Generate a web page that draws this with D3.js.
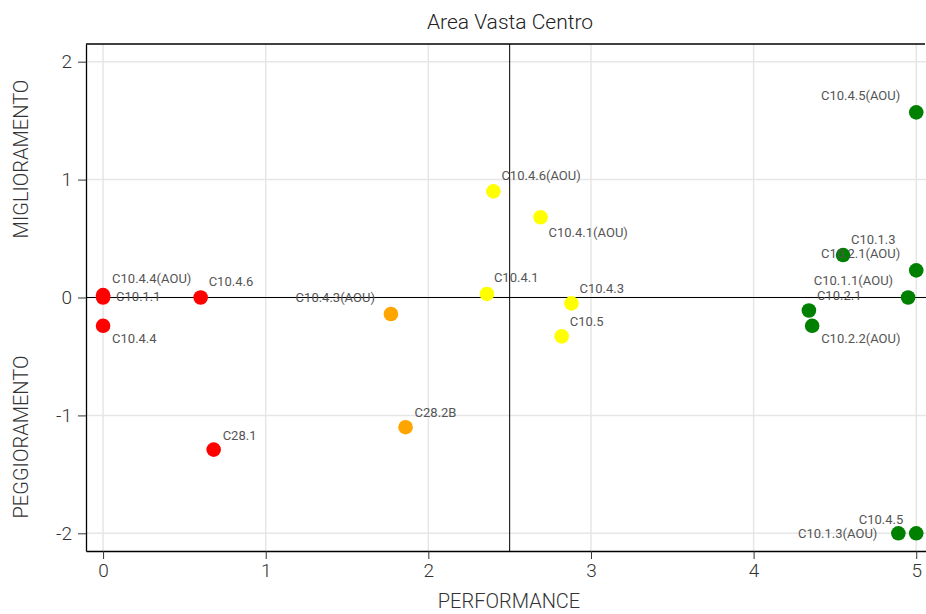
<!DOCTYPE html>
<html><head><meta charset="utf-8">
<script src="https://cdn.jsdelivr.net/npm/d3@7"></script>
<style>body{margin:0;background:#fff}svg{display:block}text{font-family:Roboto,"DejaVu Sans",sans-serif}</style>
</head><body><svg id="c" width="926" height="614"></svg>
<script>
const labels = ["C10.4.4(AOU)","C10.1.1","C10.4.4","C10.4.6","C28.1","C10.4.3(AOU)","C28.2B","C10.4.6(AOU)","C10.4.1(AOU)","C10.4.1","C10.4.3","C10.5","C10.4.5(AOU)","C10.1.3","C10.2.1(AOU)","C10.1.1(AOU)","C10.2.1","C10.2.2(AOU)","C10.1.3(AOU)","C10.4.5"];
const performance = [0,0,0,0.6,0.68,1.77,1.86,2.4,2.69,2.36,2.88,2.82,5,4.55,5,4.95,4.34,4.36,4.89,5];
const miglioramento = [0.02,0,-0.24,0,-1.29,-0.14,-1.1,0.9,0.68,0.03,-0.05,-0.33,1.57,0.36,0.23,0,-0.11,-0.24,-2,-2];
const groups = ["red","red","red","red","red","orange","orange","yellow","yellow","yellow","yellow","yellow","green","green","green","green","green","green","green","green"];
const xTicks = [0,1,2,3,4,5];
const yTicks = [-2,-1,0,1,2];
// label placement (layout, repel-like)
const labelDx = [9,13,9,8,9,-16,9,8,8,7,8,8,-16,8,-16,-15,8,9,-21,-13];
const labelDy = [-17,-1,13,-16,-14,-17,-15,-16,15,-16,-15,-15,-17,-16,-17,-17,-15,13,0,-14];

const colors = {red:"#ff0000",orange:"#ffa500",yellow:"#ffff00",green:"#008000"};
const svg = d3.select("#c");
const L=86,R=926,T=44,B=551;
const x = d3.scaleLinear().domain([-0.105,5.06]).range([L,R]);
const y = d3.scaleLinear().domain([-2.15,2.15]).range([B,T]);

// grid
svg.append("g").selectAll("line").data(xTicks).join("line")
  .attr("x1",d=>x(d)).attr("x2",d=>x(d)).attr("y1",T).attr("y2",B)
  .attr("stroke","#e6e6e6").attr("stroke-width",1.5);
svg.append("g").selectAll("line").data(yTicks).join("line")
  .attr("y1",d=>y(d)).attr("y2",d=>y(d)).attr("x1",L).attr("x2",R)
  .attr("stroke","#e6e6e6").attr("stroke-width",1.5);

// frame top
svg.append("line").attr("x1",L).attr("x2",R-1).attr("y1",T).attr("y2",T).attr("stroke","#000").attr("stroke-width",1.3);

// axes
const xa = svg.append("g").attr("transform",`translate(0,${B})`).call(d3.axisBottom(x).tickValues(xTicks).tickSize(8).tickSizeOuter(0).tickPadding(5).tickFormat(d3.format("d")));
const ya = svg.append("g").attr("transform",`translate(${L},0)`).call(d3.axisLeft(y).tickValues(yTicks).tickSize(8).tickSizeOuter(0).tickPadding(6).tickFormat(d=>d<0?"-"+Math.abs(d):d));
[xa,ya].forEach(a=>{
  a.select(".domain").attr("stroke","#000").attr("stroke-width",1.3);
  a.selectAll(".tick line").attr("stroke","#333");
  a.selectAll(".tick text").attr("font-size",19).attr("font-weight",300).attr("fill","#333").style("font-family","Roboto, sans-serif");
});

// quadrant lines
svg.append("line").attr("x1",x(2.5)).attr("x2",x(2.5)).attr("y1",T).attr("y2",B).attr("stroke","#000").attr("stroke-width",1);
svg.append("line").attr("x1",L).attr("x2",R).attr("y1",y(0)).attr("y2",y(0)).attr("stroke","#000").attr("stroke-width",1);

const data = labels.map((l,i)=>({l,x:performance[i],y:miglioramento[i],g:groups[i],dx:labelDx[i],dy:labelDy[i]}));

svg.append("g").selectAll("circle").data(data).join("circle")
  .attr("cx",d=>x(d.x)).attr("cy",d=>y(d.y)).attr("r",7.3).attr("fill",d=>colors[d.g]);

svg.append("g").selectAll("text").data(data).join("text")
  .attr("x",d=>x(d.x)+d.dx).attr("y",d=>y(d.y)+d.dy)
  .attr("text-anchor",d=>d.dx<0?"end":"start").attr("dominant-baseline","central")
  .attr("font-size",13).attr("fill","#555").text(d=>d.l);

// titles
svg.append("text").attr("x",510).attr("y",29).attr("text-anchor","middle").attr("font-size",21).attr("font-weight",300).attr("fill","#222").text("Area Vasta Centro");
svg.append("text").attr("x",509).attr("y",608).attr("text-anchor","middle").attr("font-size",20).attr("font-weight",300).attr("fill","#333").text("PERFORMANCE");
svg.append("text").attr("transform","translate(28,159) rotate(-90)").attr("text-anchor","middle").attr("font-size",20).attr("font-weight",300).attr("fill","#333").text("MIGLIORAMENTO");
svg.append("text").attr("transform","translate(28,437) rotate(-90)").attr("text-anchor","middle").attr("font-size",20).attr("font-weight",300).attr("fill","#333").text("PEGGIORAMENTO");
</script></body></html>
